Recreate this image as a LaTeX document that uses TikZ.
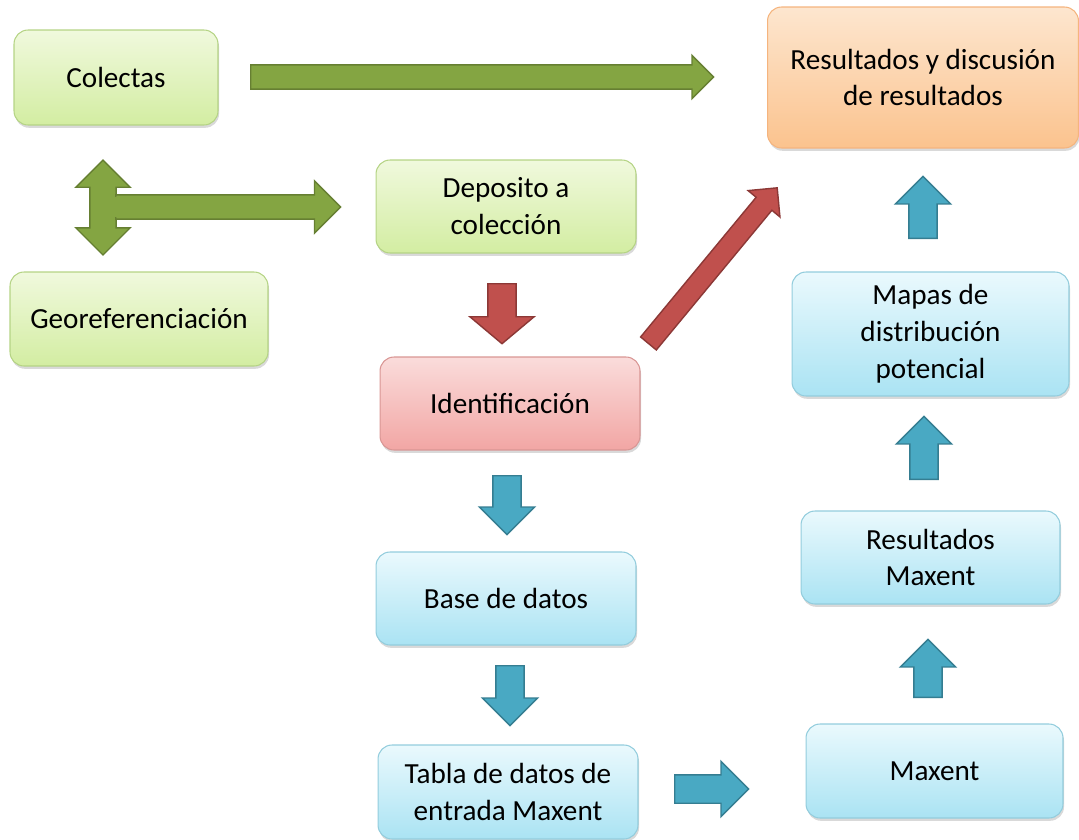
\documentclass[tikz,border=0pt]{standalone}
\usepackage{fontspec}
\setmainfont{Carlito}
\usetikzlibrary{shapes.arrows,shadows}
\definecolor{grtop}{HTML}{F0F9DD}
\definecolor{grbot}{HTML}{D3EDA2}
\definecolor{grline}{HTML}{B5D485}
\definecolor{rdtop}{HTML}{FADCDB}
\definecolor{rdbot}{HTML}{F2A6A4}
\definecolor{rdline}{HTML}{D99694}
\definecolor{bltop}{HTML}{EAF9FD}
\definecolor{blbot}{HTML}{AAE3F3}
\definecolor{blline}{HTML}{93CDDD}
\definecolor{ortop}{HTML}{FDE6CF}
\definecolor{orbot}{HTML}{FBC38E}
\definecolor{orline}{HTML}{F5B47E}
\definecolor{arrgreen}{HTML}{84A542}
\definecolor{arrgreenline}{HTML}{667F32}
\definecolor{arrred}{HTML}{C0504D}
\definecolor{arrredline}{HTML}{8C3836}
\definecolor{arrblue}{HTML}{49A9C3}
\definecolor{arrblueline}{HTML}{357D91}

\begin{document}
\begin{tikzpicture}
[x=0.02cm,y=-0.02cm,
 box/.style={rectangle,rounded corners=0.28cm,line width=0.6pt,inner sep=0pt,align=center,
   font=\fontsize{16.6}{21}\selectfont,
   drop shadow={shadow xshift=0.6pt,shadow yshift=-1.6pt,opacity=0.3}},
 greenbox/.style={box,draw=grline,top color=grtop,bottom color=grbot},
 redbox/.style={box,draw=rdline,top color=rdtop,bottom color=rdbot},
 bluebox/.style={box,draw=blline,top color=bltop,bottom color=blbot},
 orangebox/.style={box,draw=orline,top color=ortop,bottom color=orbot},
 fatarrow/.style n args={3}{single arrow,anchor=tail,inner xsep=0pt,inner ysep=#1*0.01cm,
   single arrow head extend=(#2-#1)*0.01cm,minimum height=#3*0.02cm,minimum width=0pt,line width=0.8pt},
 greenarrow/.style n args={3}{fatarrow={#1}{#2}{#3},fill=arrgreen,draw=arrgreenline},
 redarrow/.style n args={3}{fatarrow={#1}{#2}{#3},fill=arrred,draw=arrredline},
 bluearrow/.style n args={3}{fatarrow={#1}{#2}{#3},fill=arrblue,draw=arrblueline}]
  \useasboundingbox (0,0) rectangle (1079,839);

  % left and middle column
  \node[greenbox,minimum width=4.08cm,minimum height=1.90cm] (col) at (116,77.5) {Colectas};
  \node[greenbox,minimum width=5.16cm,minimum height=1.88cm] (geo) at (139,319) {Georeferenciación};
  \node[greenbox,minimum width=5.20cm,minimum height=1.86cm] (dep) at (506,206.5) {Deposito a\\colección};
  \node[redbox,minimum width=5.20cm,minimum height=1.86cm] (ident) at (510,403.5) {Identificación};
  \node[bluebox,minimum width=5.20cm,minimum height=1.86cm] (base) at (506,598.5) {Base de datos};
  \node[bluebox,minimum width=5.20cm,minimum height=1.88cm] (tabla) at (508,792) {Tabla de datos de\\entrada Maxent};

  % right column
  \node[orangebox,minimum width=6.22cm,minimum height=2.82cm] (res) at (923,77.5) {Resultados y discusión\\de resultados};
  \node[bluebox,minimum width=5.54cm,minimum height=2.48cm] (mapas) at (930.5,334) {Mapas de\\distribución\\potencial};
  \node[bluebox,minimum width=5.18cm,minimum height=1.86cm] (resmax) at (930.5,557.5) {Resultados\\Maxent};
  \node[bluebox,minimum width=5.14cm,minimum height=1.88cm] (maxent) at (934.5,771) {Maxent};

  % green arrows
  \node[greenarrow={23}{42}{463}] (g1) at (250,77) {};
  \node[double arrow,inner xsep=0pt,inner ysep=0.25cm,double arrow head extend=0.28cm,
    minimum height=1.9cm,minimum width=0pt,line width=0.8pt,fill=arrgreen,draw=arrgreenline,
    rotate=90] (g2) at (103,207.5) {};
  \node[greenarrow={23}{51}{225}] (g3) at (115,207) {};
  \fill[arrgreen] (112,197) rectangle (119,217);

  % red arrows
  \node[redarrow={27}{63}{60},single arrow tip angle=100,rotate=-90] (r1) at (502,283) {};
  \node[redarrow={19}{40}{202},rotate=50.4] (r2) at (648,344) {};

  % blue arrows
  \foreach \name/\x/\y/\rot/\len in {b1/507/475/-90/59, b2/510/665/-90/60, b3/674/789/0/74,
    b4/928/698/90/58, b5/924/480/90/63, b6/923/239/90/62}
    \node[bluearrow={27}{54}{\len},rotate=\rot] (\name) at (\x,\y) {};

\end{tikzpicture}
\end{document}
